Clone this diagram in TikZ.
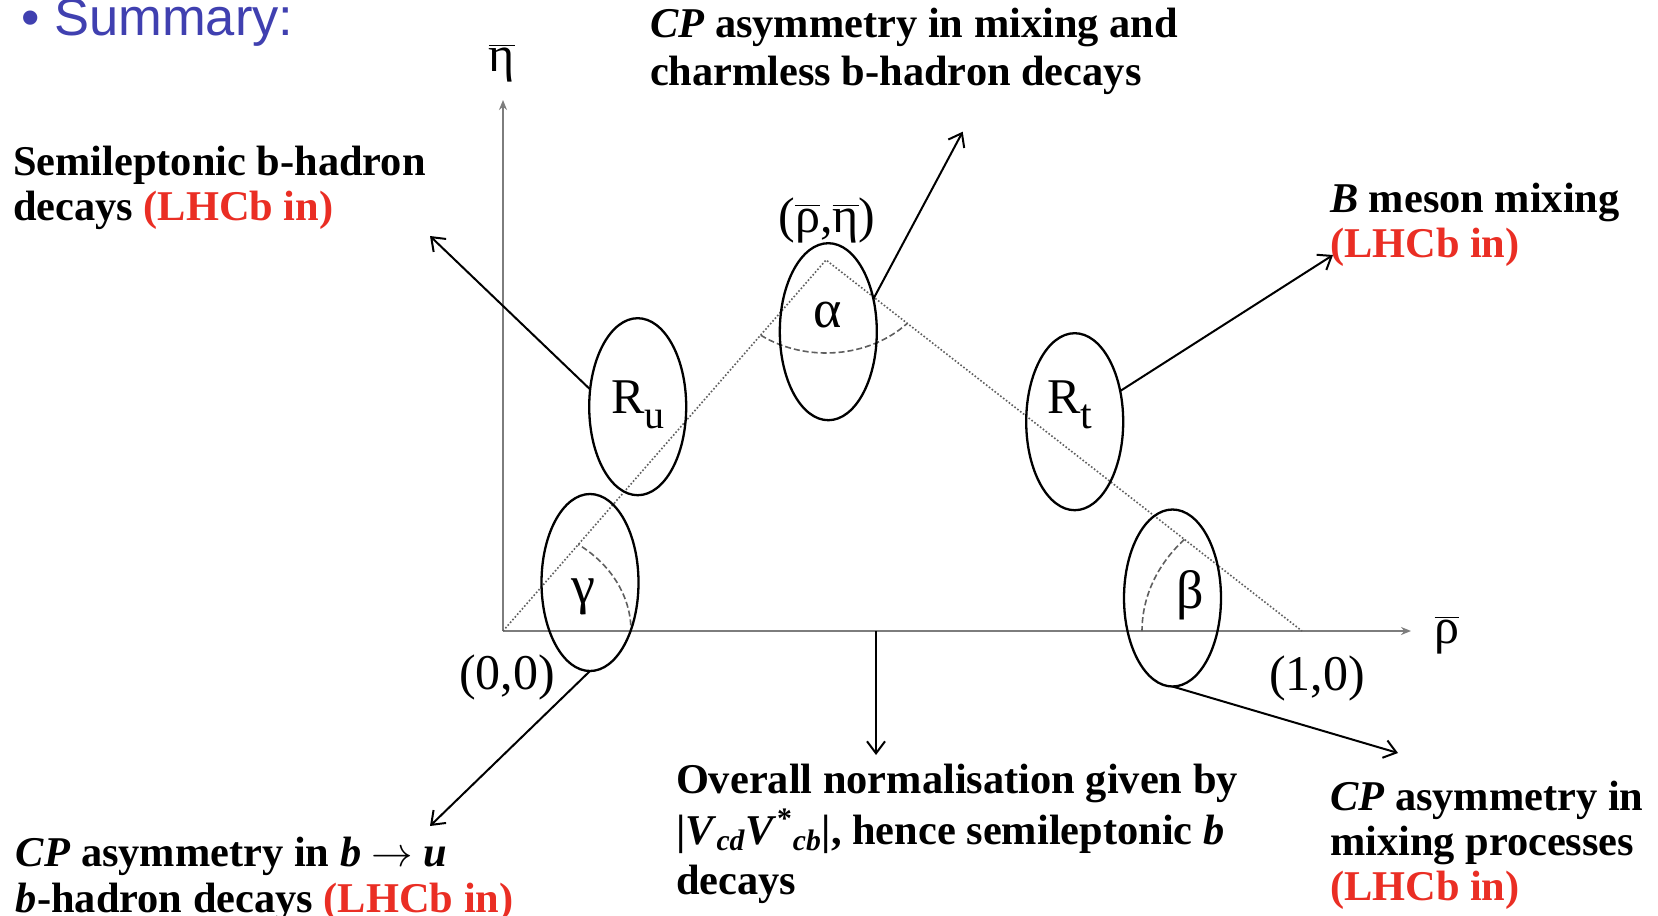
\documentclass[tikz,border=0pt]{standalone}
\usepackage{fontspec}
\setmainfont{Liberation Serif}
\newfontfamily\sumfont{Liberation Sans}
\usetikzlibrary{arrows.meta,shapes.geometric}
\definecolor{lhcbred}{RGB}{234,46,36}
\definecolor{sumblue}{RGB}{64,64,176}
\definecolor{axisgray}{RGB}{125,125,125}
\definecolor{trigray}{RGB}{95,95,95}
\newcommand\ovbar[1]{$\overline{\hbox{#1}}$}
\begin{document}
\begin{tikzpicture}[x=0.5pt,y=0.5pt,
  txt/.style={anchor=base west, inner sep=0, outer sep=0, font=\fontsize{21.2}{24}\selectfont\bfseries},
  lbl/.style={inner sep=0, outer sep=0, font=\fontsize{25}{28}\selectfont},
  greek/.style={inner sep=0, outer sep=0, font=\fontsize{27}{30}\selectfont},
  oval/.style={draw, ellipse, line width=1.15pt, inner sep=0, outer sep=0, minimum width=48.5pt, minimum height=88.5pt},
  ptr/.style={line width=1pt, -{Straight Barb[length=6pt,width=9pt]}},
  axisline/.style={draw=axisgray, line width=1pt, -{Stealth[length=5pt,width=4pt]}},
  side/.style={draw=trigray, line width=0.8pt, densely dotted},
  anglearc/.style={draw=trigray, line width=0.8pt, dash pattern=on 3pt off 1.5pt}
]
\fill[white] (0,0) rectangle (1658,-915);
\useasboundingbox (0,0) rectangle (1658,-915);

% title
\node[anchor=base west, inner sep=0, text=sumblue, font=\sumfont\fontsize{26.25}{30}\selectfont] (summary) at (21,-36) {• Summary:};

% points
\coordinate (O) at (503,-631);
\coordinate (A) at (826,-260);
\coordinate (B) at (1302,-631);
\coordinate (etatip) at (503,-100);
\coordinate (rhotip) at (1411,-631);

% axes
\draw[axisline] (O) -- (etatip);
\draw[axisline] (O) -- (rhotip);

% triangle sides
\draw[side] (O) -- (A) -- (B);

% angle arcs
\draw[anglearc] (O) ++(3:64pt and 53.5pt) arc[start angle=3, end angle=54, x radius=64pt, y radius=53.5pt];
\draw[anglearc] (A) ++(234:55.5pt and 46.5pt) arc[start angle=234, end angle=317, x radius=55.5pt, y radius=46.5pt];
\draw[anglearc] (B) ++(137.3:80pt and 67.5pt) arc[start angle=137.3, end angle=180, x radius=80pt, y radius=67.5pt];

% labels of the plot
\node[lbl] (etalbl) at (502,-63) {\ovbar{η}};
\node[lbl] (rholbl) at (1447,-635) {\ovbar{ρ}};
\node[lbl] (apexlbl) at (827,-220) {(\ovbar{ρ},\ovbar{η})};
\node[lbl] (zerolbl) at (507,-677) {(0,0)};
\node[lbl] (onelbl) at (1317,-678) {(1,0)};
\node[greek] (alphalbl) at (828,-315) {α};
\node[greek] (gammalbl) at (583,-597) {γ};
\node[greek] (betalbl) at (1190,-595) {β};
\node[lbl] (Rulbl) at (638,-405) {R\raisebox{-0.3em}{\fontsize{20}{22}\selectfont u}};
\node[lbl] (Rtlbl) at (1070,-405) {R\raisebox{-0.3em}{\fontsize{21}{22}\selectfont t}};

% ovals
\node[oval] (Ru) at (637.7,-406.7) {};
\node[oval] (alpha) at (828.3,-331.7) {};
\node[oval] (gamma) at (590,-582.5) {};
\node[oval] (Rt) at (1074.7,-421.7) {};
\node[oval] (beta) at (1172.5,-598) {};

% arrow tips
\coordinate (Rutip) at (430,-236);
\coordinate (alphatip) at (962.7,-131.7);
\coordinate (Rttip) at (1333,-255);
\coordinate (betatip) at (1398,-753);
\coordinate (gammatip) at (430,-826);
\coordinate (normstart) at (876,-631);
\coordinate (normtip) at (876,-755);

\draw[ptr] (Ru.160) -- (Rutip);
\draw[ptr] (alpha.36) -- (alphatip);
\draw[ptr] (Rt.34) -- (Rttip);
\draw[ptr] (beta.south) -- (betatip);
\draw[ptr] (gamma.south) -- (gammatip);
\draw[ptr] (normstart) -- (normtip);

% text blocks
\node[txt] (A1) at (650,-38) {\textit{CP} asymmetry in mixing and};
\node[txt] (A2) at (650,-86) {charmless b-hadron decays};
\node[txt] (B1) at (13,-175) {Semileptonic b-hadron};
\node[txt] (B2) at (13,-220) {decays \textcolor{lhcbred}{(LHCb in)}};
\node[txt] (C1) at (1330,-212) {\textit{B} meson mixing};
\node[txt] (C2) at (1330,-257) {\textcolor{lhcbred}{(LHCb in)}};
\node[txt] (D1) at (676,-793) {Overall normalisation given by};
\node[txt] (D2) at (676,-844) {|\textit{V}\textsubscript{\textit{cd}}\textit{V}\textsuperscript{*}\textsubscript{\textit{cb}}|, hence semileptonic \textit{b}};
\node[txt] (D3) at (676,-894) {decays};
\node[txt] (E1) at (1330,-810) {\textit{CP} asymmetry in};
\node[txt] (E2) at (1330,-855) {mixing processes};
\node[txt] (E3) at (1330,-900) {\textcolor{lhcbred}{(LHCb in)}};
\node[txt] (F1) at (16,-866) {\textit{CP} asymmetry in \textit{b} $\rightarrow$ \textit{u}};
\node[txt] (F2) at (16,-912) {\textit{b}-hadron decays \textcolor{lhcbred}{(LHCb in)}};
\end{tikzpicture}
\end{document}
